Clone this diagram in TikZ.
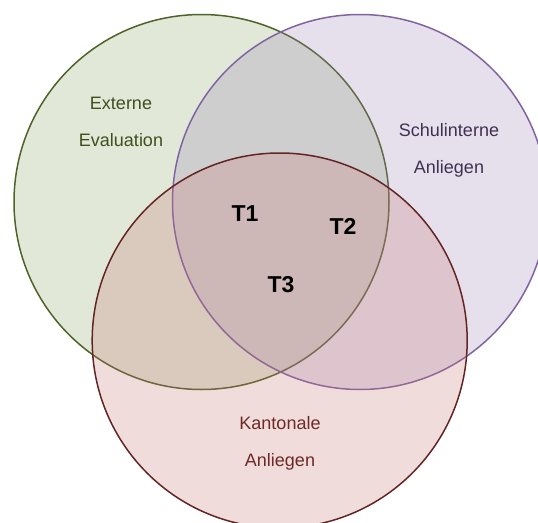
\documentclass[tikz,border=0pt]{standalone}
\usepackage{fontspec}
\setmainfont{Liberation Sans}
\usepackage{tikz}
\usetikzlibrary{positioning}

\definecolor{extline}{RGB}{79,98,40}
\definecolor{extfill}{RGB}{135,163,99}
\definecolor{extText}{RGB}{63,79,32}
\definecolor{schline}{RGB}{128,100,162}
\definecolor{schfill}{RGB}{155,131,179}
\definecolor{schText}{RGB}{63,49,81}
\definecolor{kanline}{RGB}{99,37,35}
\definecolor{kanfill}{RGB}{199,115,115}
\definecolor{kanText}{RGB}{110,40,38}

\begin{document}
\begin{tikzpicture}[
    x=1pt, y=-1pt,
    venn/.style={circle,minimum size=375pt,inner sep=0pt,outer sep=0pt,
                 line width=1.5pt,fill opacity=0.25,draw opacity=1},
    setlabel/.style={align=center,font=\fontsize{18}{37}\selectfont,inner sep=0pt},
    tlabel/.style={font=\fontsize{23}{26}\selectfont\bfseries,inner sep=0pt}
]
\useasboundingbox (0,0) rectangle (538,522);
\clip (0,0) rectangle (538,522);

% the three sets
\node[venn,draw=extline,fill=extfill] (ext) at (201.5,202) {};
\node[venn,draw=schline,fill=schfill] (sch) at (360,202) {};
\node[venn,draw=kanline,fill=kanfill] (kan) at (279.7,340.5) {};

% set names
\node[setlabel,text=extText] (extname) at (121,122) {Externe\\Evaluation};
\node[setlabel,text=schText] (schname) at (449,150) {Schulinterne\\Anliegen};
\node[setlabel,text=kanText] (kanname) at (280,443) {Kantonale\\Anliegen};

% topics
\node[tlabel] (t1) at (245,214) {T1};
\node[tlabel] (t2) at (343,226) {T2};
\node[tlabel] (t3) at (281,285) {T3};
\end{tikzpicture}
\end{document}
